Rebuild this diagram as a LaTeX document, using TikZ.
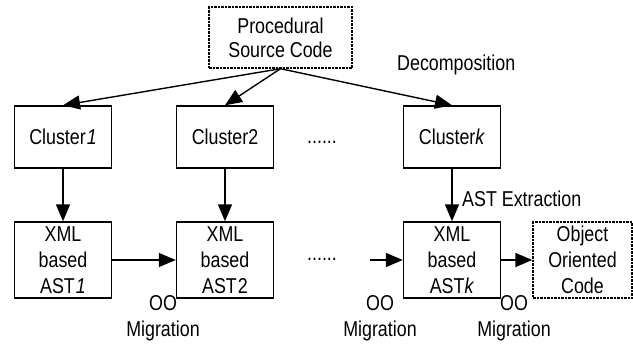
\documentclass[tikz,border=0pt]{standalone}
\usepackage{fontspec}
\setmainfont[FakeStretch=0.83]{Liberation Sans}
\usetikzlibrary{arrows.meta}
\begin{document}
\begin{tikzpicture}[x=1pt,y=-1pt,
  every node/.style={font=\fontsize{21.5}{26}\selectfont, inner sep=0pt, align=center},
  box/.style={draw, line width=1.4pt, minimum width=97pt},
  dbox/.style={draw, line width=1.4pt, dash pattern=on 2.5pt off 1pt},
  arr/.style={line width=1.4pt, -{Triangle[length=17pt,width=14pt]}}]
\useasboundingbox (0,0) rectangle (633,351);
\node[dbox, minimum width=143pt, minimum height=61pt] (psc) at (280.5,37.5) {Procedural\\[-2pt]Source Code};
\node[box, minimum height=62pt] (c1) at (63,137) {Cluster\kern1pt\textit{1}};
\node[box, minimum height=62pt] (c2) at (225,137) {Cluster2};
\node[box, minimum height=62pt] (ck) at (452,137) {Cluster\textit{k}};
\node[box, minimum height=76pt] (a1) at (63,260) {XML\\based\\AST\kern1pt\textit{1}};
\node[box, minimum height=76pt] (a2) at (225,260) {XML\\based\\AST\kern1pt 2};
\node[box, minimum height=76pt] (ak) at (452,260) {XML\\based\\AST\textit{k}};
\node[dbox, minimum width=99pt, minimum height=76pt] (ooc) at (582.5,260) {Object\\Oriented\\Code};
\node (dots1) at (322,142) {......};
\node (dots2) at (322,259) {......};
\coordinate (s) at (370,260);
\node[anchor=west] (dec) at (397,65) {Decomposition};
\node[anchor=west] (ext) at (462,199) {AST Extraction};
\node (m1) at (163,318) {OO\\Migration};
\node (m2) at (380,318) {OO\\Migration};
\node (m3) at (514,318) {OO\\Migration};
\draw[arr] (psc.south) -- (c1.north);
\draw[arr] (psc.south) -- (c2.north);
\draw[arr] (psc.south) -- (ck.north);
\draw[arr] (c1) -- (a1);
\draw[arr] (c2) -- (a2);
\draw[arr] (ck) -- (ak);
\draw[arr] (a1) -- (a2);
\draw[arr] (s) -- (ak.west);
\draw[arr] (ak) -- (ooc);
\end{tikzpicture}
\end{document}
